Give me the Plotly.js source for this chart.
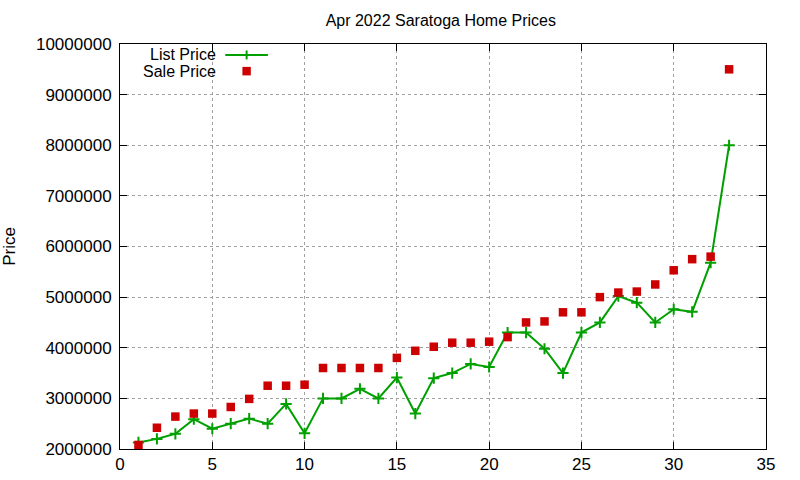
<!DOCTYPE html>
<html>
<head>
<meta charset="utf-8">
<script src="https://cdn.plot.ly/plotly-3.0.1.min.js"></script>
<style>
  html, body { margin: 0; padding: 0; background: #fff; }
  #chart { width: 800px; height: 480px; }
</style>
</head>
<body>
<div id="chart"></div>
<script>
const homeIndex = [1, 2, 3, 4, 5, 6, 7, 8, 9, 10, 11, 12, 13, 14, 15, 16, 17,
  18, 19, 20, 21, 22, 23, 24, 25, 26, 27, 28, 29, 30, 31, 32, 33];

const listPrice = [2130000, 2200000, 2300000, 2590000, 2400000, 2500000, 2600000,
  2500000, 2890000, 2310000, 3000000, 3000000, 3190000, 3000000, 3410000, 2700000,
  3400000, 3500000, 3680000, 3620000, 4300000, 4300000, 3980000, 3500000, 4300000,
  4500000, 5020000, 4890000, 4500000, 4760000, 4710000, 5680000, 8000000];

const salePrice = [2080000, 2420000, 2640000, 2700000, 2700000, 2830000, 2990000,
  3250000, 3250000, 3270000, 3600000, 3600000, 3600000, 3600000, 3800000, 3940000,
  4020000, 4100000, 4100000, 4120000, 4210000, 4500000, 4520000, 4700000, 4700000,
  5000000, 5090000, 5110000, 5250000, 5530000, 5750000, 5800000, 9500000];

const xTicks = [0, 5, 10, 15, 20, 25, 30, 35];
const yTicks = [2000000, 3000000, 4000000, 5000000, 6000000, 7000000, 8000000,
  9000000, 10000000];

const COLORS = {
  list: '#00a000',
  sale: '#cc0000',
  grid: '#a0a0a0',
  axis: '#000000'
};

const FONT = 'Liberation Sans, Arial, sans-serif';

const traces = [
  {
    x: homeIndex,
    y: listPrice,
    name: 'List Price',
    mode: 'lines+markers',
    line: { color: COLORS.list, width: 2 },
    marker: {
      symbol: 'cross-thin',
      size: 8,
      color: COLORS.list,
      line: { color: COLORS.list, width: 2 }
    },
    showlegend: false
  },
  {
    x: homeIndex,
    y: salePrice,
    name: 'Sale Price',
    mode: 'markers',
    marker: { symbol: 'square', size: 8.5, color: COLORS.sale },
    showlegend: false
  }
];

// legend drawn gnuplot-style: text right aligned, sample to its right
const legendY = [0.973, 0.933];
const legendTextX = 0.151;
const sampleX0 = 0.163;
const sampleX1 = 0.229;
const sampleMid = (sampleX0 + sampleX1) / 2;

const axisCommon = {
  showline: true,
  linecolor: COLORS.axis,
  linewidth: 1,
  mirror: 'allticks',
  ticks: 'inside',
  ticklen: 7,
  tickcolor: COLORS.axis,
  showgrid: true,
  gridcolor: COLORS.grid,
  griddash: 'dot',
  gridwidth: 1,
  zeroline: false,
  tickfont: { family: FONT, size: 17, color: '#000' }
};

const layout = {
  width: 800,
  height: 480,
  margin: { l: 120, r: 34, t: 44, b: 31 },
  paper_bgcolor: '#ffffff',
  plot_bgcolor: '#ffffff',
  font: { family: FONT, size: 16, color: '#000' },
  title: {
    text: 'Apr 2022 Saratoga Home Prices',
    font: { family: FONT, size: 16, color: '#000' },
    x: 0.551,
    xanchor: 'center',
    y: 0.958,
    yanchor: 'middle'
  },
  xaxis: Object.assign({}, axisCommon, {
    range: [0, 35],
    tickvals: xTicks,
    ticktext: xTicks.map(String)
  }),
  yaxis: Object.assign({}, axisCommon, {
    range: [2000000, 10000000],
    tickvals: yTicks,
    ticktext: yTicks.map(String),
    ticklabelstandoff: 4,
    title: { text: 'Price', font: { family: FONT, size: 17, color: '#000' }, standoff: 22 }
  }),
  annotations: [
    {
      xref: 'paper', yref: 'paper', x: legendTextX, y: legendY[0],
      xanchor: 'right', yanchor: 'middle', showarrow: false,
      text: 'List Price', font: { family: FONT, size: 16, color: '#000' }
    },
    {
      xref: 'paper', yref: 'paper', x: legendTextX, y: legendY[1],
      xanchor: 'right', yanchor: 'middle', showarrow: false,
      text: 'Sale Price', font: { family: FONT, size: 16, color: '#000' }
    }
  ],
  shapes: [
    {
      type: 'line', xref: 'paper', yref: 'paper',
      x0: sampleX0, x1: sampleX1, y0: legendY[0], y1: legendY[0],
      line: { color: COLORS.list, width: 2 }
    },
    {
      type: 'line', xref: 'paper', yref: 'paper',
      x0: sampleMid, x1: sampleMid, y0: legendY[0] - 0.011, y1: legendY[0] + 0.011,
      line: { color: COLORS.list, width: 2 }
    },
    {
      type: 'rect', xref: 'paper', yref: 'paper',
      x0: sampleMid - 0.0065, x1: sampleMid + 0.0065,
      y0: legendY[1] - 0.0105, y1: legendY[1] + 0.0105,
      fillcolor: COLORS.sale, line: { width: 0 }
    }
  ]
};

const config = { displayModeBar: false, staticPlot: true };

Plotly.newPlot('chart', traces, layout, config);
</script>
</body>
</html>
